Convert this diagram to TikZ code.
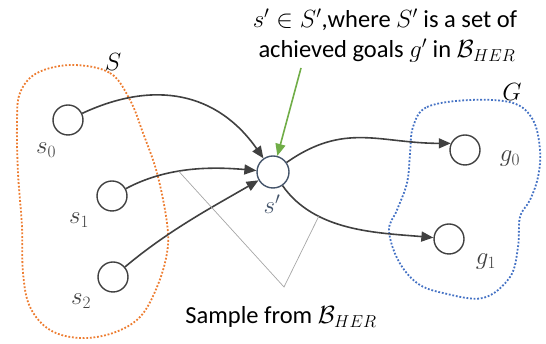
\documentclass[tikz,border=0pt]{standalone}
\usepackage{fontspec}
\setmainfont{Carlito}
\usetikzlibrary{arrows.meta}
\definecolor{conn}{HTML}{404040}
\definecolor{spc}{HTML}{44546A}
\definecolor{orangeS}{HTML}{ED7D31}
\definecolor{blueG}{HTML}{4472C4}
\definecolor{greenA}{HTML}{70AD47}
\begin{document}
\begin{tikzpicture}[x=1pt,y=1pt,
  state/.style={circle,draw=conn,line width=1.4pt,minimum size=30pt,inner sep=0pt},
  conn/.style={draw=conn,line width=1.6pt,-{Triangle[length=12pt,width=10pt]}},
  lab/.style={text=conn,font=\fontsize{26}{30}\selectfont},
  big/.style={font=\fontsize{24.5}{28}\selectfont,inner sep=0pt,anchor=base},
  blob/.style={line width=1.8pt,dash pattern=on 1.8pt off 1.8pt},
  gline/.style={draw=gray!70,line width=0.7pt}]
\useasboundingbox (0,0) rectangle (546,344);
% blobs
\draw[blob,orangeS] plot[smooth cycle,tension=0.6] coordinates {(72,279) (110,271) (130,244) (143,211) (157,171) (167,121) (167,91) (157,57) (140,27) (113,11) (80,6) (50,14) (30,37) (23,71) (22,117) (18,171) (17,221) (20,251) (37,271)};
\draw[blob,blueG] plot[smooth cycle,tension=0.6] coordinates {(413,217) (427,237) (470,244) (513,241) (533,224) (540,194) (538,167) (530,144) (520,127) (518,97) (510,67) (483,46) (443,51) (417,61) (398,84) (389,114) (397,134) (407,161) (410,190)};
% nodes
\node[state] (s0) at (68,224) {};
\node[state] (s1) at (112,148) {};
\node[state] (s2) at (113,67) {};
\node[state,draw=spc,minimum size=32pt] (sp) at (273,172) {};
\node[state] (g0) at (465,194) {};
\node[state] (g1) at (449,105) {};
% labels
\node[lab] (ls0) at (46,194) {$s_0$};
\node[lab] (ls1) at (79,124) {$s_1$};
\node[lab] (ls2) at (81,43) {$s_2$};
\node[lab,text=black] (lS) at (113,282) {$S$};
\node[lab,text=spc] (lsp) at (272,140) {$s'$};
\node[lab] (lg0) at (510,185) {$g_0$};
\node[lab] (lg1) at (486,82) {$g_1$};
\node[lab,text=black] (lG) at (512,252) {$G$};
\node[big] (top1) at (385,316) {$s'\in S'$,where $S'$ is a set of};
\node[big] (top2) at (387,286) {achieved goals $g'$ in $\mathcal{B}_{HER}$};
\node[font=\fontsize{24.5}{26}\selectfont] (samp) at (281,27) {Sample from $\mathcal{B}_{HER}$};
% connectors
\draw[conn] (s0) to[out=25,in=125,looseness=1.1] (sp);
\draw[conn] (s1) to[out=28,in=175,looseness=0.9] coordinate[pos=0.42] (v1) (sp);
\draw[conn] (s2) to[out=40,in=210,looseness=0.9] (sp);
\draw[conn] (sp) to[out=35,in=180,looseness=1.1] (g0.155);
\draw[conn] (sp) to[out=-55,in=175,looseness=0.9] coordinate[pos=0.3] (v3) (g1);
% green arrow
\coordinate (gs) at (301,276);
\draw[draw=greenA,line width=1.6pt,-{Triangle[length=12pt,width=10pt]},fill=greenA] (gs) -- (sp);
% grey V
\coordinate (vb) at (284,57);
\draw[gline] (v1) -- (vb) -- (v3);
\end{tikzpicture}
\end{document}
